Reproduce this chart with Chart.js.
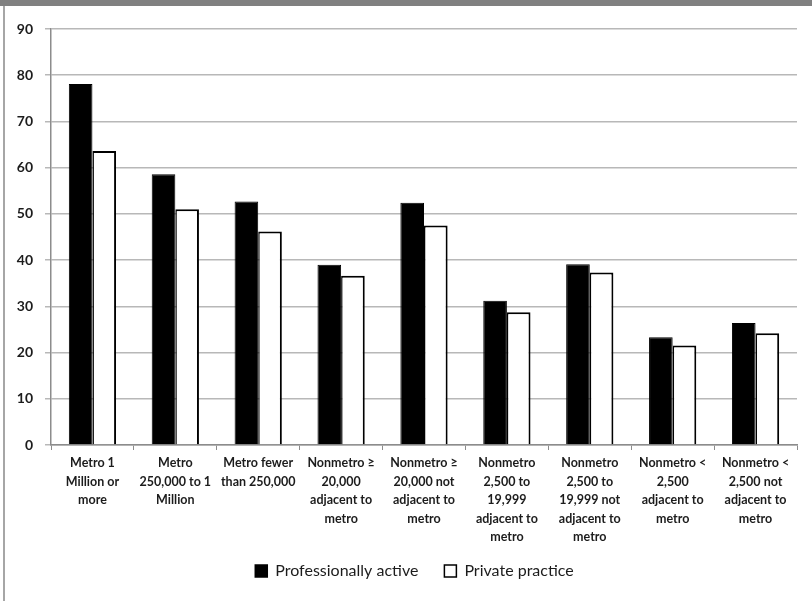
<!DOCTYPE html>
<html>
<head>
<meta charset="utf-8">
<script src="https://cdn.jsdelivr.net/npm/chart.js@4/dist/chart.umd.min.js"></script>
<style>
  html, body { margin: 0; padding: 0; background: #fff; }
  #wrap { position: relative; width: 812px; height: 601px; }
  canvas { display: block; }
</style>
</head>
<body>
<div id="wrap"><canvas id="c" width="812" height="601"></canvas></div>
<script>
// Area categories (multi-line tick labels)
const categories = [
  ["Metro 1", "Million or", "more"],
  ["Metro", "250,000 to 1", "Million"],
  ["Metro fewer", "than 250,000"],
  ["Nonmetro \u2265", "20,000", "adjacent to", "metro"],
  ["Nonmetro \u2265", "20,000 not", "adjacent to", "metro"],
  ["Nonmetro", "2,500 to", "19,999", "adjacent to", "metro"],
  ["Nonmetro", "2,500 to", "19,999 not", "adjacent to", "metro"],
  ["Nonmetro <", "2,500", "adjacent to", "metro"],
  ["Nonmetro <", "2,500 not", "adjacent to", "metro"]
];

const professionallyActive = [78.1, 58.6, 52.7, 39.0, 52.4, 31.2, 39.1, 23.3, 26.4];
const privatePractice      = [63.6, 51.0, 46.2, 36.6, 47.5, 28.7, 37.3, 21.5, 24.2];

const yTicks = [0, 10, 20, 30, 40, 50, 60, 70, 80, 90];

const TEXT = '#1c1c1c';
const FONT = 'Lato, "Open Sans", sans-serif';

// Frame: dark band along the top and a thin rule down the left side
const framePlugin = {
  id: 'frame',
  afterDraw(chart) {
    const ctx = chart.ctx;
    ctx.save();
    ctx.fillStyle = '#808080';
    ctx.fillRect(0, 0, chart.width, 6);
    ctx.fillStyle = '#a6a6a6';
    ctx.fillRect(3, 6, 2, chart.height - 6);
    ctx.restore();
  }
};

// Nudge the legend box: centre it under the plot and lift it closer to the axis labels
const legendPlacement = {
  id: 'legendPlacement',
  afterLayout(chart) {
    const lg = chart.legend;
    if (!lg) return;
    lg.left += 32;
    lg.top -= 12;
    lg.bottom -= 12;
  }
};

new Chart(document.getElementById('c'), {
  type: 'bar',
  data: {
    labels: categories,
    datasets: [
      {
        label: 'Professionally active',
        data: professionallyActive,
        backgroundColor: '#000000',
        borderColor: '#000000',
        borderWidth: 1
      },
      {
        label: 'Private practice',
        data: privatePractice,
        backgroundColor: '#ffffff',
        borderColor: '#000000',
        borderWidth: { top: 2, left: 1.5, right: 2, bottom: 0 },
        borderSkipped: 'bottom'
      }
    ]
  },
  options: {
    responsive: false,
    animation: false,
    devicePixelRatio: 1,
    datasets: {
      bar: { categoryPercentage: 0.57, barPercentage: 1.0 }
    },
    layout: { padding: { top: 29, right: 15, left: 0, bottom: 0 } },
    plugins: {
      title: { display: false },
      tooltip: { enabled: false },
      legend: {
        display: true,
        position: 'bottom',
        labels: {
          color: TEXT,
          font: { family: FONT, size: 16 },
          boxWidth: 12,
          boxHeight: 12,
          padding: 26,
          generateLabels(chart) {
            return chart.data.datasets.map((ds, i) => ({
              text: ds.label,
              fillStyle: ds.backgroundColor,
              strokeStyle: '#000000',
              lineWidth: 1.5,
              hidden: false,
              datasetIndex: i,
              fontColor: TEXT
            }));
          }
        }
      }
    },
    scales: {
      x: {
        type: 'category',
        offset: true,
        grid: {
          offset: true,
          drawOnChartArea: false,
          drawTicks: true,
          tickLength: 5,
          color: '#8c8c8c',
          lineWidth: 1
        },
        border: { display: true, color: '#8c8c8c', width: 1.5 },
        ticks: {
          color: TEXT,
          maxRotation: 0,
          minRotation: 0,
          autoSkip: false,
          padding: 4,
          font: { family: FONT, size: 12.5, weight: 'bold', lineHeight: 1.48 }
        },
        afterFit(scale) { scale.height = 104; }
      },
      y: {
        min: 0,
        max: 90,
        afterBuildTicks(scale) { scale.ticks = yTicks.map(v => ({ value: v })); },
        grid: {
          color: '#b8b8b8',
          lineWidth: 1.5,
          drawTicks: true,
          tickLength: 6
        },
        border: { display: true, color: '#8c8c8c', width: 1.5 },
        ticks: {
          color: TEXT,
          padding: 12,
          font: { family: FONT, size: 14, weight: 'bold' }
        },
        afterFit(scale) { scale.width = 51; }
      }
    }
  },
  plugins: [framePlugin, legendPlacement]
});
</script>
</body>
</html>
